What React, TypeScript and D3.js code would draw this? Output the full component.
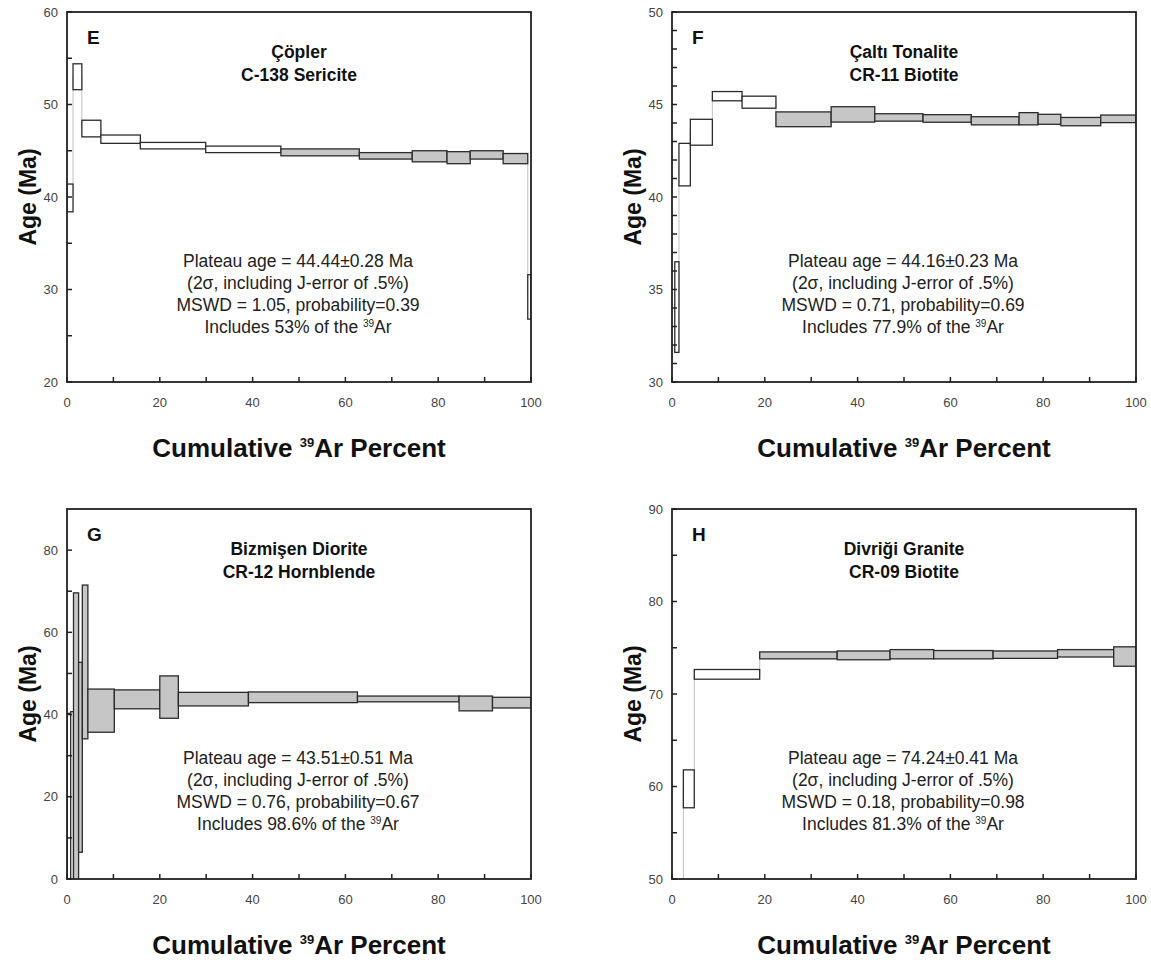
import React from "react";
import * as d3 from "d3";

const xTicks = [0, 20, 40, 60, 80, 100];
const xMinor = [10, 30, 50, 70, 90];

// E: Çöpler, C-138 sericite
const eCum = [0, 1.3, 3.2, 7.3, 15.8, 29.9, 46.1, 63.0, 74.4, 81.9, 86.9, 94.0, 99.3, 100];
const eLow = [38.4, 51.6, 46.5, 45.8, 45.2, 44.8, 44.45, 44.1, 43.8, 43.6, 44.1, 43.6, 26.8];
const eHigh = [41.4, 54.4, 48.3, 46.7, 45.9, 45.5, 45.2, 44.8, 45.0, 44.9, 45.0, 44.7, 31.6];
const ePlateau = [6, 11];
const eYTicks = [20, 30, 40, 50, 60];
const eYMinor = [25, 35, 45, 55];
const eText = ["44.44±0.28", "1.05", "0.39", "53"];

// F: Çaltı tonalite, CR-11 biotite
const fCum = [0.6, 1.5, 3.95, 8.7, 15.1, 22.4, 34.3, 43.7, 54.1, 64.5, 74.8, 78.9, 83.8, 92.4, 100];
const fLow = [31.6, 40.6, 42.8, 45.2, 44.8, 43.8, 44.05, 44.1, 44.04, 43.9, 43.9, 43.93, 43.85, 44.02];
const fHigh = [36.5, 42.9, 44.2, 45.7, 45.45, 44.6, 44.88, 44.5, 44.45, 44.34, 44.56, 44.47, 44.3, 44.43];
const fPlateau = [5, 13];
const fYTicks = [30, 35, 40, 45, 50];
const fYMinor = [31, 32, 33, 34, 36, 37, 38, 39, 41, 42, 43, 44, 46, 47, 48, 49];
const fText = ["44.16±0.23", "0.71", "0.69", "77.9"];

// G: Bizmişen diorite, CR-12 hornblende
const gCum = [0, 0.8, 1.4, 2.5, 3.3, 4.5, 10.2, 20.0, 24.0, 39.1, 62.6, 84.5, 91.7, 100];
const gLow = [-10, -10, -10, 6.5, 34.1, 35.7, 41.4, 39.1, 42.1, 42.9, 43.1, 40.9, 41.6];
const gHigh = [40.3, 40.7, 69.6, 52.7, 71.5, 46.2, 46.0, 49.4, 45.4, 45.5, 44.5, 44.5, 44.2];
const gPlateau = [2, 12];
const gYTicks = [0, 20, 40, 60, 80];
const gYMinor = [10, 30, 50, 70];
const gText = ["43.51±0.51", "0.76", "0.67", "98.6"];

// H: Divriği granite, CR-09 biotite
const hCum = [0, 2.45, 4.8, 18.9, 35.6, 47.0, 56.4, 69.2, 83.1, 95.2, 100];
const hLow = [44, 57.7, 71.6, 73.8, 73.7, 73.8, 73.8, 73.85, 74.0, 73.0];
const hHigh = [47, 61.8, 72.65, 74.55, 74.65, 74.8, 74.7, 74.65, 74.8, 75.1];
const hPlateau = [3, 9];
const hYTicks = [50, 60, 70, 80, 90];
const hYMinor = [55, 65, 75, 85];
const hText = ["74.24±0.41", "0.18", "0.98", "81.3"];

const W = 464;
const H = 370;
const COLS = [67, 672];
const ROWS = [12, 509];
const FONT = "'Liberation Sans', Arial, sans-serif";

const panels = [
  { letter: "E", title: ["Çöpler", "C-138 Sericite"], cum: eCum, low: eLow, high: eHigh, plateau: ePlateau, yTicks: eYTicks, yMinor: eYMinor, text: eText, col: 0, row: 0 },
  { letter: "F", title: ["Çaltı Tonalite", "CR-11 Biotite"], cum: fCum, low: fLow, high: fHigh, plateau: fPlateau, yTicks: fYTicks, yMinor: fYMinor, text: fText, col: 1, row: 0 },
  { letter: "G", title: ["Bizmişen Diorite", "CR-12 Hornblende"], cum: gCum, low: gLow, high: gHigh, plateau: gPlateau, yTicks: gYTicks, yMinor: gYMinor, text: gText, col: 0, row: 1, yMax: 90 },
  { letter: "H", title: ["Divriği Granite", "CR-09 Biotite"], cum: hCum, low: hLow, high: hHigh, plateau: hPlateau, yTicks: hYTicks, yMinor: hYMinor, text: hText, col: 1, row: 1 },
];

function Panel({ p }: { p: any }) {
  const x = d3.scaleLinear().domain([0, 100]).range([0, W]);
  const yDom = [d3.min(p.yTicks) as number, p.yMax ?? (d3.max(p.yTicks) as number)];
  const y = d3.scaleLinear().domain(yDom).range([H, 0]);
  const steps = p.low.map((lo: number, i: number) => ({
    a: p.cum[i],
    b: p.cum[i + 1],
    lo,
    hi: p.high[i],
    on: i >= p.plateau[0] && i <= p.plateau[1],
  }));
  const clipId = "clip" + p.letter;
  const tickLen = 5;

  return (
    <g transform={`translate(${COLS[p.col]},${ROWS[p.row]})`} fontFamily={FONT}>
      <defs>
        <clipPath id={clipId}>
          <rect width={W} height={H} />
        </clipPath>
      </defs>
      <g clipPath={`url(#${clipId})`}>
        {steps.slice(1).map((s: any, i: number) => {
          const prev = steps[i];
          return (
            <line key={"c" + i} x1={x(s.a)} x2={x(s.a)}
              y1={y((prev.lo + prev.hi) / 2)} y2={y((s.lo + s.hi) / 2)}
              stroke="#c2c2c2" strokeWidth={1} />
          );
        })}
        {steps.map((s: any, i: number) => (
          <rect key={"s" + i} x={x(s.a)} y={y(s.hi)} width={x(s.b) - x(s.a)} height={y(s.lo) - y(s.hi)}
            fill={s.on ? "#c6c6c6" : "#ffffff"} stroke="#2b2b2b" strokeWidth={1.3} />
        ))}
      </g>
      <rect width={W} height={H} fill="none" stroke="#222" strokeWidth={1.8} />

      {xTicks.concat(xMinor).map((t) => (
        <line key={"xt" + t} x1={x(t)} x2={x(t)} y1={H} y2={H - tickLen} stroke="#222" strokeWidth={1.5} />
      ))}
      {p.yTicks.concat(p.yMinor).map((t: number) => (
        <line key={"yt" + t} x1={0} x2={tickLen} y1={y(t)} y2={y(t)} stroke="#222" strokeWidth={1.5} />
      ))}
      {xTicks.map((t) => (
        <text key={"xl" + t} x={x(t)} y={H + 25} textAnchor="middle" fontSize={13} fill="#444">{t}</text>
      ))}
      {p.yTicks.map((t: number) => (
        <text key={"yl" + t} x={-9} y={y(t)} dy="0.35em" textAnchor="end" fontSize={13} fill="#444">{t}</text>
      ))}

      <text x={20} y={32} fontSize={19} fontWeight="bold" fill="#111">{p.letter}</text>
      <text x={232} y={46} textAnchor="middle" fontSize={17.5} fontWeight="bold" fill="#111">{p.title[0]}</text>
      <text x={232} y={69} textAnchor="middle" fontSize={17.5} fontWeight="bold" fill="#111">{p.title[1]}</text>

      <g fontSize={17.5} fill="#222" textAnchor="middle">
        <text x={231} y={255}>Plateau age = {p.text[0]} Ma</text>
        <text x={231} y={277}>(2σ, including J-error of .5%)</text>
        <text x={231} y={299}>MSWD = {p.text[1]}, probability={p.text[2]}</text>
        <text x={231} y={321}>
          Includes {p.text[3]}% of the <tspan fontSize={10} dy={-6}>39</tspan><tspan dy={6}>Ar</tspan>
        </text>
      </g>

      <text transform={`translate(-39,${H / 2}) rotate(-90)`} textAnchor="middle" dy="0.35em"
        fontSize={23} fontWeight="bold" fill="#111">Age (Ma)</text>
      <text x={W / 2} y={H + 75} textAnchor="middle" fontSize={26} fontWeight="bold" fill="#111">
        Cumulative <tspan fontSize={13} dy={-10}>39</tspan><tspan dy={10}>Ar Percent</tspan>
      </text>
    </g>
  );
}

export default function App() {
  return (
    <svg width={1151} height={960} style={{ position: "absolute", left: 0, top: 0, background: "#fff" }}>
      <rect width={1151} height={960} fill="#fff" />
      {panels.map((p) => (
        <Panel key={p.letter} p={p} />
      ))}
    </svg>
  );
}
